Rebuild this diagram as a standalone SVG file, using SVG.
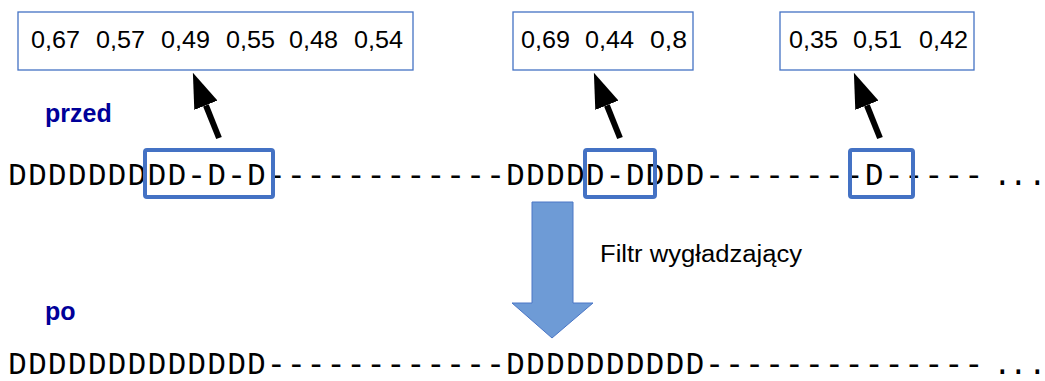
<svg xmlns="http://www.w3.org/2000/svg" width="1045" height="381" viewBox="0 0 1045 381">
  <style>
    .seq { font-family: "Courier New", "Liberation Mono", monospace; font-size: 31px; fill: #000; }
    .num { font-family: "Liberation Sans", Arial, sans-serif; font-size: 23px; fill: #000; }
    .lbl { font-family: "Liberation Sans", Arial, sans-serif; font-size: 25px; font-weight: bold; fill: #000099; }
    .cap { font-family: "Liberation Sans", Arial, sans-serif; font-size: 23.5px; fill: #000; }
    .numbox { fill: #fff; stroke: #4472C4; stroke-width: 1.3; }
    .hl { fill: none; stroke: #4472C4; stroke-width: 4; }
    .ptr { stroke: #000; stroke-width: 6; fill: none; }
  </style>
  <defs>
    <marker id="head" viewBox="0 0 35 25" refX="0" refY="12.5" markerWidth="35" markerHeight="25" markerUnits="userSpaceOnUse" orient="auto">
      <path d="M0,0 L35,12.5 L0,25 z" fill="#000"/>
    </marker>
  </defs>
  <rect width="1045" height="381" fill="#fff"/>

  <g id="node-values-1">
    <rect class="numbox" x="18" y="12" width="395" height="58"/>
    <text class="num" y="48">
      <tspan x="31" textLength="49" lengthAdjust="spacingAndGlyphs">0,67</tspan>
      <tspan x="96" textLength="49" lengthAdjust="spacingAndGlyphs">0,57</tspan>
      <tspan x="161" textLength="49" lengthAdjust="spacingAndGlyphs">0,49</tspan>
      <tspan x="226" textLength="49" lengthAdjust="spacingAndGlyphs">0,55</tspan>
      <tspan x="289" textLength="49" lengthAdjust="spacingAndGlyphs">0,48</tspan>
      <tspan x="354" textLength="49" lengthAdjust="spacingAndGlyphs">0,54</tspan>
    </text>
  </g>
  <g id="node-values-2">
    <rect class="numbox" x="513" y="12" width="180" height="58"/>
    <text class="num" y="48">
      <tspan x="521" textLength="49" lengthAdjust="spacingAndGlyphs">0,69</tspan>
      <tspan x="585" textLength="49" lengthAdjust="spacingAndGlyphs">0,44</tspan>
      <tspan x="650" textLength="37" lengthAdjust="spacingAndGlyphs">0,8</tspan>
    </text>
  </g>
  <g id="node-values-3">
    <rect class="numbox" x="780" y="12" width="194" height="58"/>
    <text class="num" y="48">
      <tspan x="789" textLength="49" lengthAdjust="spacingAndGlyphs">0,35</tspan>
      <tspan x="853" textLength="49" lengthAdjust="spacingAndGlyphs">0,51</tspan>
      <tspan x="919" textLength="49" lengthAdjust="spacingAndGlyphs">0,42</tspan>
    </text>
  </g>

  <g id="node-label-przed">
    <text class="lbl" x="45" y="122">przed</text>
  </g>
  <g id="node-label-po">
    <text class="lbl" x="45" y="320">po</text>
  </g>

  <g id="node-seq-before">
    <text class="seq" x="8" y="185" textLength="975" lengthAdjust="spacing">DDDDDDDDD-D-D------------DDDDD-DDDD--------D-----</text>
    <text class="seq" y="185" x="993 1009 1028">...</text>
    <rect class="hl" x="145" y="150" width="128" height="47" rx="2"/>
    <rect class="hl" x="585" y="150" width="70" height="47" rx="2"/>
    <rect class="hl" x="850" y="150" width="63" height="47" rx="2"/>
  </g>
  <g id="node-seq-after">
    <text class="seq" x="8" y="374" textLength="975" lengthAdjust="spacing">DDDDDDDDDDDDD------------DDDDDDDDDD--------------</text>
    <text class="seq" y="374" x="993 1009 1028">...</text>
  </g>

  <g id="node-filter-label">
    <text class="cap" x="600" y="262" textLength="202" lengthAdjust="spacingAndGlyphs">Filtr wygładzający</text>
  </g>

  <g id="connectors">
    <line class="ptr" x1="219" y1="138" x2="205.9" y2="105.3" marker-end="url(#head)"/>
    <line class="ptr" x1="620" y1="138" x2="606.9" y2="105.3" marker-end="url(#head)"/>
    <line class="ptr" x1="880" y1="138" x2="866.9" y2="105.3" marker-end="url(#head)"/>
    <path d="M532,202 L573,202 L573,303 L593,303 L552,338 L512,303 L532,303 Z" fill="#6E9BD6" stroke="#4A76C6" stroke-width="1"/>
  </g>
</svg>
